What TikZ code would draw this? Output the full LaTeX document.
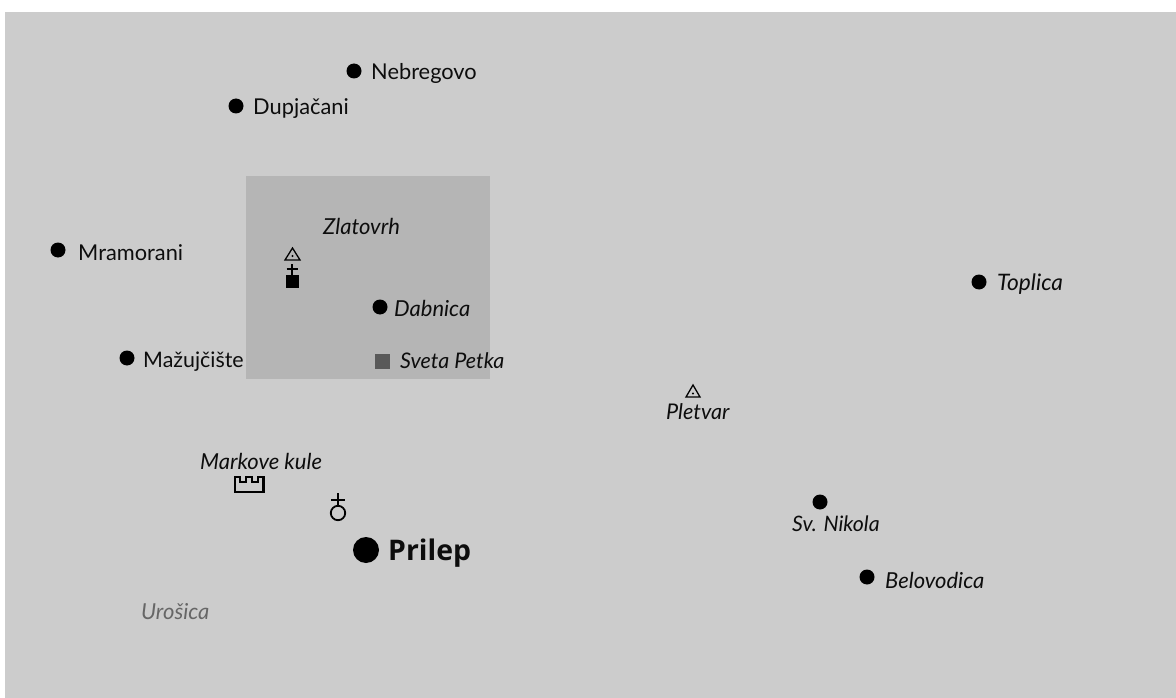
\documentclass[tikz,border=0pt]{standalone}
\usepackage{fontspec}
\setmainfont{Lato}
\newfontfamily\boldface{Open Sans}
\usetikzlibrary{shapes.geometric}
\tikzset{
  x=1pt,y=-1pt,
  place/.style={anchor=base west,inner sep=0pt,font=\fontsize{21.8}{24}\selectfont,text=black!95},
  iplace/.style={place,font=\fontsize{22}{24}\selectfont\itshape},
  dot/.style={circle,fill=black,inner sep=0pt,minimum size=15pt}
}
\definecolor{bggrey}{gray}{0.80}
\definecolor{boxgrey}{gray}{0.71}
\begin{document}
\begin{tikzpicture}
\useasboundingbox (0,0) rectangle (1176,698);
\fill[white] (0,0) rectangle (1176,698);
\fill[bggrey] (5,12) rectangle (1176,698);
\node[fill=boxgrey,inner sep=0pt,minimum width=244pt,minimum height=203pt] (box) at (368,277.5) {};
% settlements
\node[dot] (nebd) at (354,71) {};
\node[place] (neb) at (371,80) {Nebregovo};
\node[dot] (dupd) at (236,106) {};
\node[place] (dup) at (253,115) {Dupjačani};
\node[dot] (mrad) at (58,250) {};
\node[place] (mra) at (78,260) {Mramorani};
\node[dot] (mazd) at (127,358) {};
\node[place,font=\fontsize{21.4}{24}\selectfont] (maz) at (143,367) {Mažujčište};
\node[dot] (dabd) at (380,307) {};
\node[iplace] (dab) at (394,316) {Dabnica};
\node[iplace] (zla) at (323,234.5) {Zlatovrh};
\node[fill=black!65,inner sep=0pt,minimum size=15pt] (svep) at (382,361) {};
\node[iplace,font=\fontsize{21.5}{24}\selectfont\itshape] (sve) at (400,368) {Sveta Petka};
\node[dot] (topd) at (979,282) {};
\node[iplace,font=\fontsize{22.7}{24}\selectfont\itshape] (top) at (997,290) {Toplica};
\node[dot] (nikd) at (820,502) {};
\node[iplace,font=\fontsize{21.3}{24}\selectfont\itshape] (nik) at (792,531.5) {Sv. Nikola};
\node[dot] (beld) at (867,577) {};
\node[iplace] (bel) at (885,588) {Belovodica};
\node[iplace] (mar) at (200,469) {Markove kule};
\node[iplace,text=black!60] (uro) at (141,619) {Urošica};
\node[dot,minimum size=26pt] (pril) at (366,550) {};
\node[place,font=\fontsize{28.4}{32}\selectfont\boldface\bfseries] (prl) at (388,560.5) {Prilep};
\node[iplace,font=\fontsize{21.6}{24}\selectfont\itshape] (ple) at (666,419) {Pletvar};
% Pletvar peak
\draw[line width=1.3pt,line join=miter] (693,385) -- (700,397) -- (686,397) -- cycle;
\fill (693,393.5) circle (1.2pt);
% Zlatovrh peak
\draw[line width=1.3pt] (292.5,248) -- (300,260) -- (285,260) -- cycle;
\fill (292.5,256) circle (1.2pt);
% church with cross
\fill (285.5,275) rectangle (299,288);
\draw[line width=1.8pt] (292.2,264) -- (292.2,275);
\draw[line width=1.8pt] (286.5,269) -- (298,269);
% monastery
\draw[line width=1.8pt] (338,513) circle (7.2pt);
\draw[line width=1.8pt] (338,493) -- (338,506);
\draw[line width=1.8pt] (331,500) -- (345,500);
% castle
\draw[line width=2.3pt] (235,477) -- (240,477) -- (240,482) -- (246,482) -- (246,477) -- (252,477) -- (252,482) -- (258,482) -- (258,477) -- (263.5,477) -- (263.5,492) -- (235,492) -- cycle;
\end{tikzpicture}
\end{document}
